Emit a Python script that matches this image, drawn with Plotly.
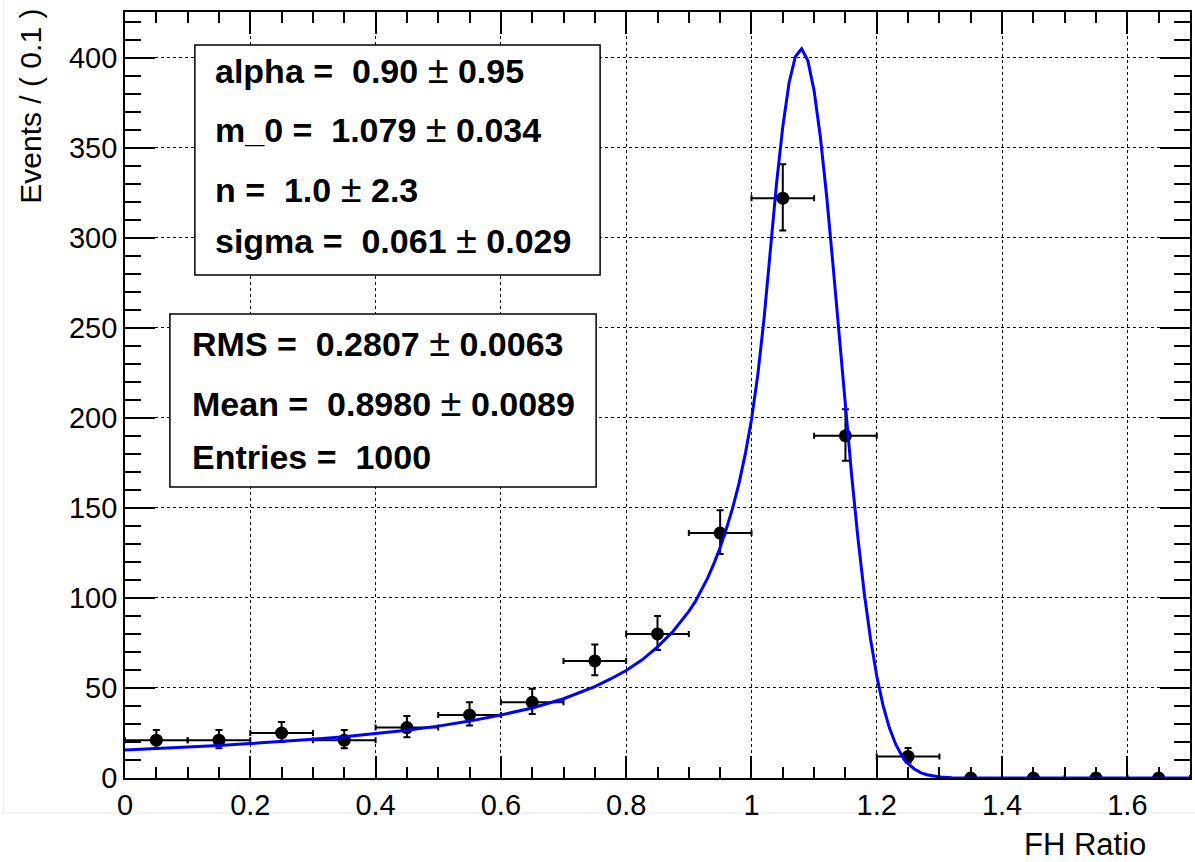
import plotly.graph_objects as go

# ---------------- data ----------------
bin_centers = [0.05, 0.15, 0.25, 0.35, 0.45, 0.55, 0.65, 0.75, 0.85, 0.95,
               1.05, 1.15, 1.25, 1.35, 1.45, 1.55, 1.65]
events = [21, 21, 25, 21, 28, 35, 42, 65, 80, 136, 322, 190, 12, 0, 0, 0, 0]
err_up = [5.6, 5.6, 6.1, 5.6, 6.4, 7.0, 7.6, 9.1, 10.0, 12.7, 18.9, 14.8, 4.6,
          1.8, 1.8, 1.8, 1.8]
err_down = [4.5, 4.5, 5.0, 4.5, 5.3, 5.9, 6.5, 8.0, 8.9, 11.6, 17.9, 13.8, 3.4,
            0, 0, 0, 0]
half_bin = [0.05] * 17

fit_x = [0.00, 0.05, 0.10, 0.15, 0.20, 0.25, 0.30, 0.35, 0.40, 0.45, 0.50,
         0.55, 0.60, 0.65, 0.70, 0.75, 0.775, 0.80, 0.825, 0.85, 0.875, 0.90,
         0.91, 0.92, 0.93, 0.94, 0.95, 0.96, 0.97, 0.98, 0.99, 1.00, 1.01,
         1.02, 1.03, 1.04, 1.05, 1.06, 1.07, 1.08, 1.09, 1.10, 1.11, 1.12,
         1.13, 1.14, 1.15, 1.16, 1.17, 1.18, 1.19, 1.20, 1.21, 1.22, 1.23,
         1.24, 1.25, 1.26, 1.27, 1.28, 1.30, 1.32, 1.35, 1.40, 1.50, 1.60,
         1.70]
fit_y = [15.6, 16.3, 17.1, 18.0, 19.1, 20.2, 21.5, 22.9, 24.6, 26.5, 28.8,
         31.6, 35.0, 38.9, 44.0, 50.8, 55.0, 59.7, 65.5, 72.8, 81.5, 92.5,
         97.8, 104.0, 111.0, 119.0, 128.0, 138.5, 150.0, 163.5, 179.7, 199.0,
         223.6, 254.8, 293.3, 330.1, 361.7, 386.0, 400.6, 405.0, 398.4, 381.7,
         356.0, 323.2, 285.5, 245.6, 205.7, 167.8, 133.1, 102.8, 77.3, 56.6,
         40.3, 28.0, 18.9, 12.4, 8.0, 5.0, 3.0, 1.8, 0.56, 0.17, 0.03, 0.0,
         0.0, 0.0, 0.0]

x_title = "FH Ratio"
y_title = "Events / ( 0.1 )"
fit_params = [("alpha", "0.90", "0.95"), ("m_0", "1.079", "0.034"),
              ("n", "1.0", "2.3"), ("sigma", "0.061", "0.029")]
stats = [("RMS", "0.2807", "0.0063"), ("Mean", "0.8980", "0.0089"),
         ("Entries", "1000", None)]

# ---------------- layout helpers ----------------
W, H = 1195, 862
L, R, T, B = 125, 3, 12, 84
PW, PH = W - L - R, H - T - B
FONT = "Liberation Sans, Arial, Helvetica, sans-serif"


def px(xp):
    return (xp - L) / PW


def py(yp):
    return (H - B - yp) / PH


fig = go.Figure()

fig.add_trace(go.Scatter(
    x=bin_centers, y=events, mode="markers",
    marker=dict(color="black", size=13),
    error_y=dict(type="data", symmetric=False, array=err_up,
                 arrayminus=err_down, color="black", thickness=2, width=3.5),
    error_x=dict(type="data", array=half_bin, color="black",
                 thickness=2, width=3),
    showlegend=False, hoverinfo="skip"))

fig.add_trace(go.Scatter(
    x=fit_x, y=fit_y, mode="lines",
    line=dict(color="rgb(0,0,255)", width=3),
    showlegend=False, hoverinfo="skip"))

axis_common = dict(
    showline=True, linecolor="black", linewidth=1.8, mirror="allticks",
    ticks="inside", tickcolor="black", tickwidth=1.5,
    showgrid=True, gridcolor="black", gridwidth=1, griddash="dot",
    zeroline=False,
    tickfont=dict(family=FONT, size=29, color="black"),
)

fig.update_xaxes(range=[0, 1.7], dtick=0.2, tick0=0, ticklen=22,
                 minor=dict(dtick=0.05, ticks="inside", ticklen=11,
                            tickcolor="black", tickwidth=1.5, showgrid=False),
                 **axis_common)
fig.update_yaxes(range=[0, 425.4], dtick=50, tick0=0, ticklen=30,
                 minor=dict(dtick=10, ticks="inside", ticklen=16,
                            tickcolor="black", tickwidth=1.5, showgrid=False),
                 **axis_common)

shapes = [
    # faint canvas frame
    dict(type="rect", xref="paper", yref="paper", x0=px(3), x1=px(1210),
         y0=py(813), y1=py(-5), line=dict(color="#e6e6e6", width=1),
         fillcolor="rgba(0,0,0,0)", layer="below"),
    # fit parameter box
    dict(type="rect", xref="paper", yref="paper", x0=px(195), x1=px(601),
         y0=py(275), y1=py(45), line=dict(color="black", width=1.5),
         fillcolor="white", layer="above"),
    # stats box
    dict(type="rect", xref="paper", yref="paper", x0=px(170), x1=px(597),
         y0=py(487), y1=py(314), line=dict(color="black", width=1.5),
         fillcolor="white", layer="above"),
]

annotations = []
NB = "\u00a0"
fit_centers = [70, 129, 189, 240]
for (name, val, err), yc in zip(fit_params, fit_centers):
    txt = f"<b>{name} ={NB}{NB}{val}</b> <span style='font-size:38px'>±</span> <b>{err}</b>"
    annotations.append(dict(x=px(213), y=py(yc), xref="paper", yref="paper",
                            text=txt, showarrow=False, xanchor="left",
                            yanchor="middle",
                            font=dict(family=FONT, size=34, color="black")))
stat_centers = [343, 403, 457]
for (name, val, err), yc in zip(stats, stat_centers):
    if err is None:
        txt = f"<b>{name} ={NB}{NB}{val}</b>"
    else:
        txt = f"<b>{name} ={NB}{NB}{val}</b> <span style='font-size:38px'>±</span> <b>{err}</b>"
    annotations.append(dict(x=px(190), y=py(yc), xref="paper", yref="paper",
                            text=txt, showarrow=False, xanchor="left",
                            yanchor="middle",
                            font=dict(family=FONT, size=34, color="black")))

annotations.append(dict(x=px(1150), y=py(844), xref="paper", yref="paper",
                        text=x_title, showarrow=False, xanchor="right",
                        yanchor="middle",
                        font=dict(family=FONT, size=31, color="black")))
annotations.append(dict(x=px(30), y=py(7), xref="paper", yref="paper",
                        text=y_title, showarrow=False, textangle=-90,
                        xanchor="center", yanchor="top",
                        font=dict(family=FONT, size=30, color="black")))

fig.update_layout(
    width=W, height=H,
    margin=dict(l=L, r=R, t=T, b=B),
    paper_bgcolor="white", plot_bgcolor="white",
    shapes=shapes, annotations=annotations,
    showlegend=False,
)

fig.write_html("out.html",
               config={"displayModeBar": False},
               post_script="document.body.style.margin='0';"
                           "document.body.style.padding='0';")
